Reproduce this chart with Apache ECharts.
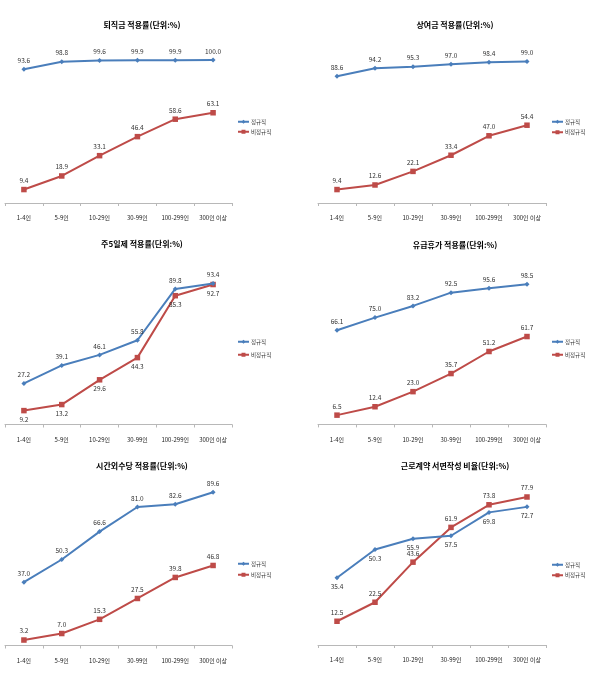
<!DOCTYPE html>
<html><head><meta charset="utf-8">
<script src="https://cdn.jsdelivr.net/npm/echarts@6/dist/echarts.min.js"></script>
<style>html,body{margin:0;padding:0;background:#fff}#c{width:598px;height:685px}</style>
</head><body><div id="c"></div>
<script>
const categories = ['1-4인','5-9인','10-29인','30-99인','100-299인','300인 이상'];
const seriesNames = ['정규직','비정규직'];
const titles = ['퇴직금 적용률(단위:%)','상여금 적용률(단위:%)','주5일제 적용률(단위:%)','유급휴가 적용률(단위:%)','시간외수당 적용률(단위:%)','근로계약 서면작성 비율(단위:%)'];
const retireReg = [93.6, 98.8, 99.6, 99.9, 99.9, 100.0];
const retireNon = [9.4, 18.9, 33.1, 46.4, 58.6, 63.1];
const bonusReg = [88.6, 94.2, 95.3, 97.0, 98.4, 99.0];
const bonusNon = [9.4, 12.6, 22.1, 33.4, 47.0, 54.4];
const fiveDayReg = [27.2, 39.1, 46.1, 55.8, 89.8, 93.4];
const fiveDayNon = [9.2, 13.2, 29.6, 44.3, 85.3, 92.7];
const paidLeaveReg = [66.1, 75.0, 83.2, 92.5, 95.6, 98.5];
const paidLeaveNon = [6.5, 12.4, 23.0, 35.7, 51.2, 61.7];
const overtimeReg = [37.0, 50.3, 66.6, 81.0, 82.6, 89.6];
const overtimeNon = [3.2, 7.0, 15.3, 27.5, 39.8, 46.8];
const contractReg = [35.4, 50.3, 55.9, 57.5, 69.8, 72.7];
const contractNon = [12.5, 22.5, 43.6, 61.9, 73.8, 77.9];

const panelData = [
  [retireReg, retireNon], [bonusReg, bonusNon],
  [fiveDayReg, fiveDayNon], [paidLeaveReg, paidLeaveNon],
  [overtimeReg, overtimeNon], [contractReg, contractNon]
];
// layout
const grids = [
  {left:5, width:227, top:60, height:143},
  {left:318, width:228, top:60, height:143},
  {left:5, width:227, top:273.5, height:151},
  {left:318, width:228, top:282, height:142.4},
  {left:5, width:227, top:474.5, height:171},
  {left:318, width:228, top:455, height:190}
];
const titlePos = [[137,16],[450,16],[137,235],[450,236],[137,457],[450,457]];
const legendPos = [[237,119,4.5],[551,119,5],[237,339,7.5],[551,339,7.5],[237,561,5.5],[551,562,5]];
// label positions: [regular, non-regular]
const labelPos = [['top','top'],['top','top'],['top','bottom'],['top','top'],['top','top'],['bottom','top']];
const colors = ['#4A7EBB','#BE4B48'];
const symbols = ['diamond','rect'];
const symbolSizes = [5,5.5];
const FONT = '"Noto Sans CJK KR", "Noto Sans", sans-serif';

const option = {
  animation:false,
  textStyle:{fontFamily:FONT},
  title: titles.map((t,i)=>({text:t,left:titlePos[i][0],top:titlePos[i][1],textAlign:'center',
    textStyle:{fontSize:8,fontWeight:'bold',color:'#000',fontFamily:FONT}})),
  legend: grids.map((g,i)=>({data:seriesNames,orient:'vertical',left:legendPos[i][0],top:legendPos[i][1],
    itemWidth:11,itemHeight:5,itemGap:legendPos[i][2],padding:0,
    textStyle:{fontSize:5.5,color:'#333',fontFamily:FONT,padding:[0,0,0,-3]}})),
  grid: grids.map(g=>Object.assign({containLabel:false},g)),
  xAxis: grids.map((g,i)=>({type:'category',gridIndex:i,data:categories,boundaryGap:true,
    axisLine:{lineStyle:{color:'#b8b8b8',width:1}},
    axisTick:{show:true,length:3,interval:0,lineStyle:{color:'#b8b8b8'}},
    axisLabel:{fontSize:6,color:'#222',margin:12,interval:0,fontFamily:FONT}})),
  yAxis: grids.map((g,i)=>({type:'value',gridIndex:i,min:0,max:100,show:false,splitLine:{show:false}})),
  series: []
};
panelData.forEach((pair,i)=>{
  pair.forEach((vals,k)=>{
    option.series.push({
      type:'line',name:seriesNames[k],xAxisIndex:i,yAxisIndex:i,data:vals,
      color:colors[k],symbol:symbols[k],symbolSize:symbolSizes[k],showAllSymbol:true,
      lineStyle:{width:2,color:colors[k]},itemStyle:{color:colors[k]},
      label:{show:true,position:labelPos[i][k],distance:3,fontSize:6.5,color:'#333',
        fontFamily:FONT,formatter:p=>Number(p.value).toFixed(1)},
      z:k===0?3:2
    });
  });
});
const chart = echarts.init(document.getElementById('c'),null,{renderer:'canvas'});
chart.setOption(option);
</script></body></html>
